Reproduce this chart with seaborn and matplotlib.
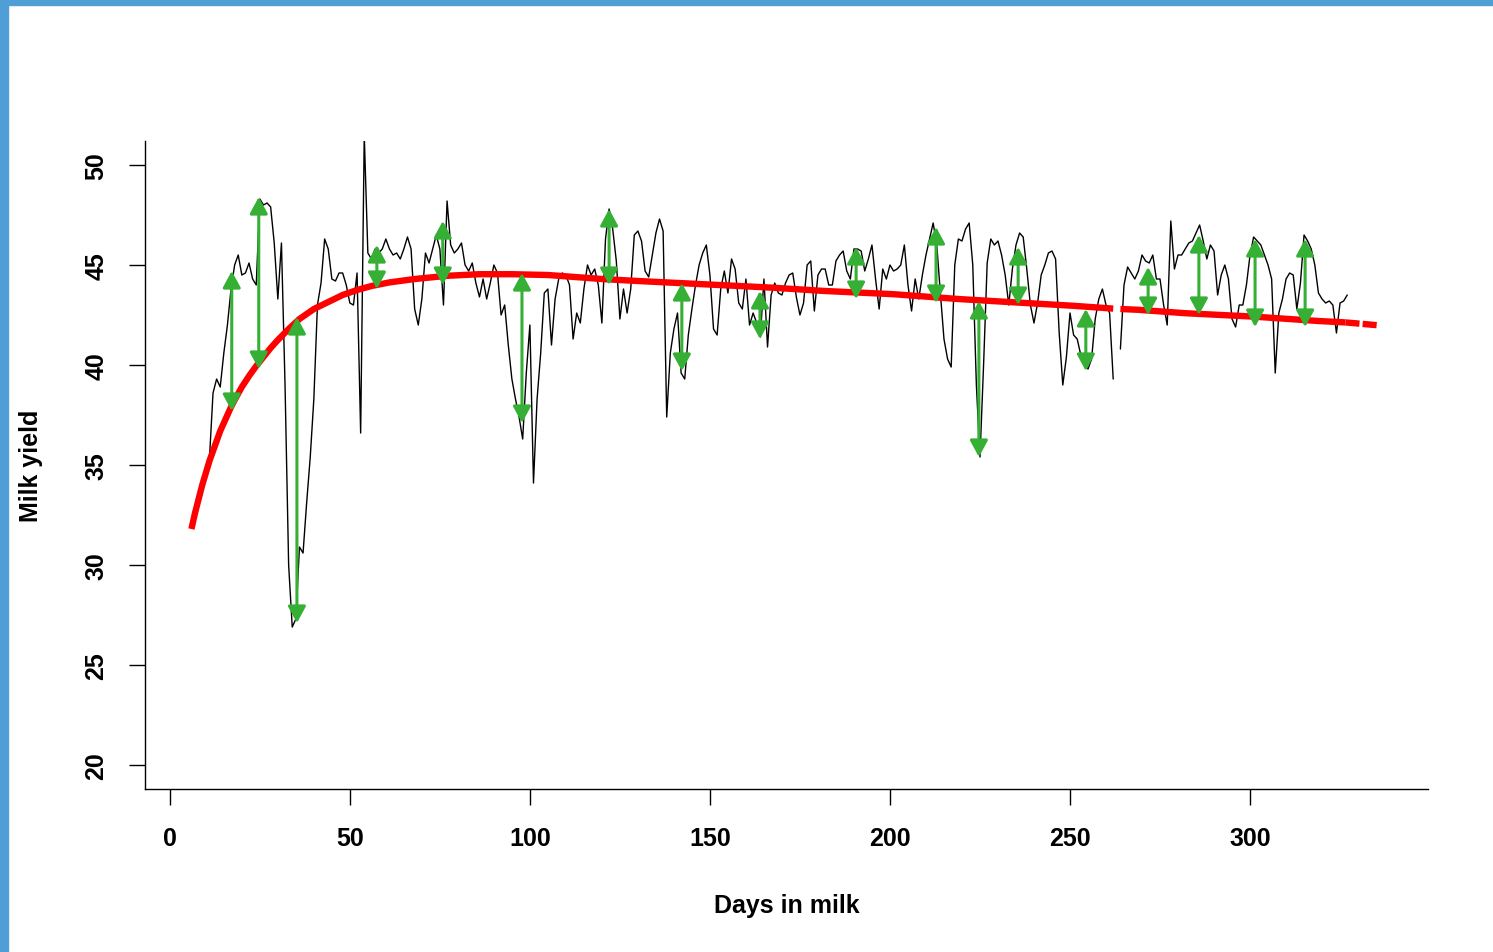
import numpy as np
import pandas as pd
import matplotlib
matplotlib.use("Agg")
import matplotlib.pyplot as plt
from matplotlib.patches import Rectangle
import seaborn as sns

# daily milk yield from day 11 to day 327 (day 263 not recorded)
first_day = 11
milk = [
    35.3, 38.6, 39.3, 38.9, 40.6, 42.0, 43.8, 45.0, 45.5, 44.5,
    44.6, 45.1, 44.3, 44.0, 48.3, 48.0, 48.1, 47.9, 46.1, 43.3,
    46.1, 39.0, 30.0, 26.9, 27.3, 30.9, 30.6, 33.1, 35.4, 38.3,
    43.0, 44.1, 46.3, 45.8, 44.3, 44.2, 44.6, 44.6, 44.0, 43.1,
    43.0, 44.6, 36.6, 51.5, 45.6, 45.3, 45.8, 45.6, 45.8, 46.3,
    45.8, 45.5, 45.6, 45.3, 45.8, 46.4, 45.8, 42.8, 42.0, 43.3,
    45.6, 45.1, 45.8, 46.5, 45.8, 43.0, 48.2, 46.0, 45.6, 45.8,
    46.1, 45.0, 44.7, 45.1, 44.1, 43.4, 44.3, 43.3, 44.1, 45.0,
    44.6, 42.5, 43.0, 41.0, 39.3, 38.3, 37.4, 36.3, 39.6, 42.0,
    34.1, 38.3, 40.6, 43.6, 43.8, 41.0, 43.3, 44.3, 44.6, 44.5,
    44.0, 41.3, 42.6, 42.1, 43.8, 45.0, 44.5, 44.8, 44.0, 42.1,
    46.3, 47.8, 46.8, 45.2, 42.3, 43.8, 42.6, 43.8, 46.5, 46.7,
    46.2, 44.7, 44.4, 45.5, 46.6, 47.3, 46.7, 37.4, 40.6, 41.8,
    42.6, 39.6, 39.3, 41.5, 42.8, 44.0, 45.0, 45.6, 46.0, 44.5,
    41.8, 41.5, 43.8, 44.7, 43.6, 45.3, 44.8, 43.1, 42.8, 44.3,
    42.0, 42.6, 42.1, 41.4, 44.3, 40.9, 43.5, 44.1, 43.6, 43.5,
    44.1, 44.5, 44.6, 43.4, 42.5, 43.1, 45.0, 45.2, 42.7, 44.5,
    44.8, 44.8, 44.0, 44.0, 45.2, 45.5, 45.7, 44.7, 44.3, 45.8,
    45.8, 45.7, 44.7, 45.3, 46.0, 44.3, 42.8, 44.8, 44.3, 45.0,
    44.7, 44.8, 45.0, 46.0, 44.0, 42.7, 44.3, 43.3, 44.5, 45.5,
    46.3, 47.1, 46.0, 43.6, 41.3, 40.3, 39.9, 45.0, 46.3, 46.2,
    46.8, 47.1, 45.0, 39.0, 35.4, 40.0, 45.1, 46.3, 46.0, 46.2,
    45.5, 44.5, 43.0, 44.8, 46.0, 46.6, 46.4, 44.8, 43.0, 42.1,
    43.1, 44.5, 45.0, 45.6, 45.7, 45.3, 41.6, 39.0, 40.4, 42.6,
    41.5, 41.3, 40.5, 40.0, 39.8, 40.3, 42.3, 43.3, 43.8, 43.0,
    42.6, 39.3, np.nan, 40.8, 44.0, 44.9, 44.6, 44.3, 44.7, 45.5,
    45.2, 45.1, 45.5, 44.3, 44.3, 43.0, 42.0, 47.2, 44.8, 45.5,
    45.5, 45.8, 46.1, 46.2, 46.6, 47.0, 46.2, 45.3, 46.0, 45.7,
    43.5, 44.5, 45.0, 44.3, 42.3, 41.9, 43.0, 43.0, 44.0, 45.5,
    46.4, 46.2, 46.0, 45.5, 45.0, 44.3, 39.6, 42.6, 43.3, 44.3,
    44.6, 44.5, 42.8, 44.1, 46.5, 46.2, 45.8, 45.0, 43.6, 43.3,
    43.1, 43.2, 43.0, 41.6, 43.1, 43.2, 43.5,
]

curve_days = [6, 7, 8, 9, 10, 11, 12, 13, 14, 15, 16, 17, 18, 20, 22, 24,
              26, 28, 30, 33, 36, 40, 44, 48, 52, 56, 61, 68, 77, 86, 95,
              105, 114, 120, 130, 139, 148, 157, 167, 182, 201, 219, 232,
              251, 262]
curve_vals = [31.8, 32.6, 33.3, 34.0, 34.6, 35.2, 35.7, 36.2, 36.7, 37.1,
              37.5, 37.9, 38.25, 38.9, 39.45, 39.95, 40.4, 40.85, 41.25,
              41.8, 42.3, 42.8, 43.15, 43.5, 43.75, 43.95, 44.13, 44.3,
              44.46, 44.54, 44.54, 44.5, 44.38, 44.3, 44.2, 44.12, 44.04,
              43.96, 43.87, 43.7, 43.54, 43.3, 43.16, 42.96, 42.82]
curve_days2 = [264, 269, 282, 301, 319, 326.5]
curve_vals2 = [42.8, 42.76, 42.59, 42.42, 42.2, 42.13]
tail_days = [326.5, 336]
tail_vals = [42.13, 41.98]

# deviation arrows: day, upper end, lower end
arrow_days = [17.2, 24.7, 35.3, 57.5, 75.8, 97.8, 122, 142.2, 163.9, 190.6,
              212.8, 224.7, 235.6, 254.4, 271.7, 285.8, 301.4, 315.3]
arrow_top = [44.7, 48.4, 42.4, 46.0, 47.2, 44.6, 47.8, 44.1, 43.7, 45.9,
             46.9, 43.2, 45.9, 42.8, 44.9, 46.5, 46.3, 46.3]
arrow_bottom = [37.7, 39.8, 27.1, 43.8, 44.0, 37.1, 44.0, 39.7, 41.3, 43.3,
                43.1, 35.4, 43.0, 39.7, 42.5, 42.5, 41.9, 41.9]

x_ticks = [0, 50, 100, 150, 200, 250, 300]
y_ticks = [20, 25, 30, 35, 40, 45, 50]

sns.set_theme(style="ticks")
plt.rcParams['font.family'] = ['Liberation Sans', 'DejaVu Sans']
plt.rcParams['font.weight'] = 'bold'
plt.rcParams['text.color'] = 'black'
plt.rcParams['axes.labelcolor'] = 'black'
plt.rcParams['xtick.color'] = 'black'
plt.rcParams['ytick.color'] = 'black'

days = np.arange(first_day, first_day + len(milk))
obs = pd.DataFrame({'day': days, 'yield': milk}).dropna()
obs['seg'] = (obs['day'] > 263).astype(int)

curve = pd.concat([
    pd.DataFrame({'day': curve_days, 'fit': curve_vals, 'seg': 0}),
    pd.DataFrame({'day': curve_days2, 'fit': curve_vals2, 'seg': 1}),
])

fig = plt.figure(figsize=(14.93, 9.53), dpi=100)
ax = fig.add_axes([0.0971, 0.1710, 0.8593, 0.6800])

sns.lineplot(data=obs, x='day', y='yield', units='seg', estimator=None,
             sort=False, color='black', lw=1.0, ax=ax, zorder=2)
sns.lineplot(data=curve, x='day', y='fit', units='seg', estimator=None,
             sort=False, color='#ff0000', lw=4.6, ax=ax, zorder=3,
             solid_capstyle='butt')
sns.lineplot(x=tail_days, y=tail_vals, color='#ff0000', lw=4.6, ax=ax,
             zorder=3, linestyle=(0, (2.2, 0.5)), dash_capstyle='butt')

for d, top, bot in zip(arrow_days, arrow_top, arrow_bottom):
    ax.annotate('', xy=(d, top), xytext=(d, bot),
                arrowprops=dict(arrowstyle='<|-|>,head_length=0.5,head_width=0.27',
                                color='#35b035', lw=2.2, mutation_scale=20,
                                shrinkA=0, shrinkB=0),
                zorder=4)

ax.set_xlim(-6.9, 349.4)
ax.set_ylim(18.8, 51.2)
ax.set_xticks(x_ticks)
ax.set_yticks(y_ticks)
ax.tick_params(axis='both', length=11.5, width=1.0, color='black',
               labelcolor='black', labelsize=18, pad=15)
ax.tick_params(axis='y', labelrotation=90)
for lab in ax.get_yticklabels():
    lab.set_va('center')

for side in ['top', 'right']:
    ax.spines[side].set_visible(False)
for side in ['left', 'bottom']:
    ax.spines[side].set_linewidth(1.0)
    ax.spines[side].set_color('black')

ax.set_xlabel('Days in milk', fontsize=18, fontweight='bold', color='black')
ax.set_ylabel('Milk yield', fontsize=18, fontweight='bold', color='black')
ax.xaxis.set_label_coords(0.5, -0.16)
ax.yaxis.set_label_coords(-0.0795, 0.5)

# blue frame strips on the left and top edge
fig.patches.append(Rectangle((0, 0), 8 / 1493, 1, transform=fig.transFigure,
                             color='#4f9fd6', zorder=10))
fig.patches.append(Rectangle((0, 1 - 6 / 953), 1, 6 / 953,
                             transform=fig.transFigure, color='#4f9fd6',
                             zorder=10))

fig.savefig('out.png', dpi=100)
